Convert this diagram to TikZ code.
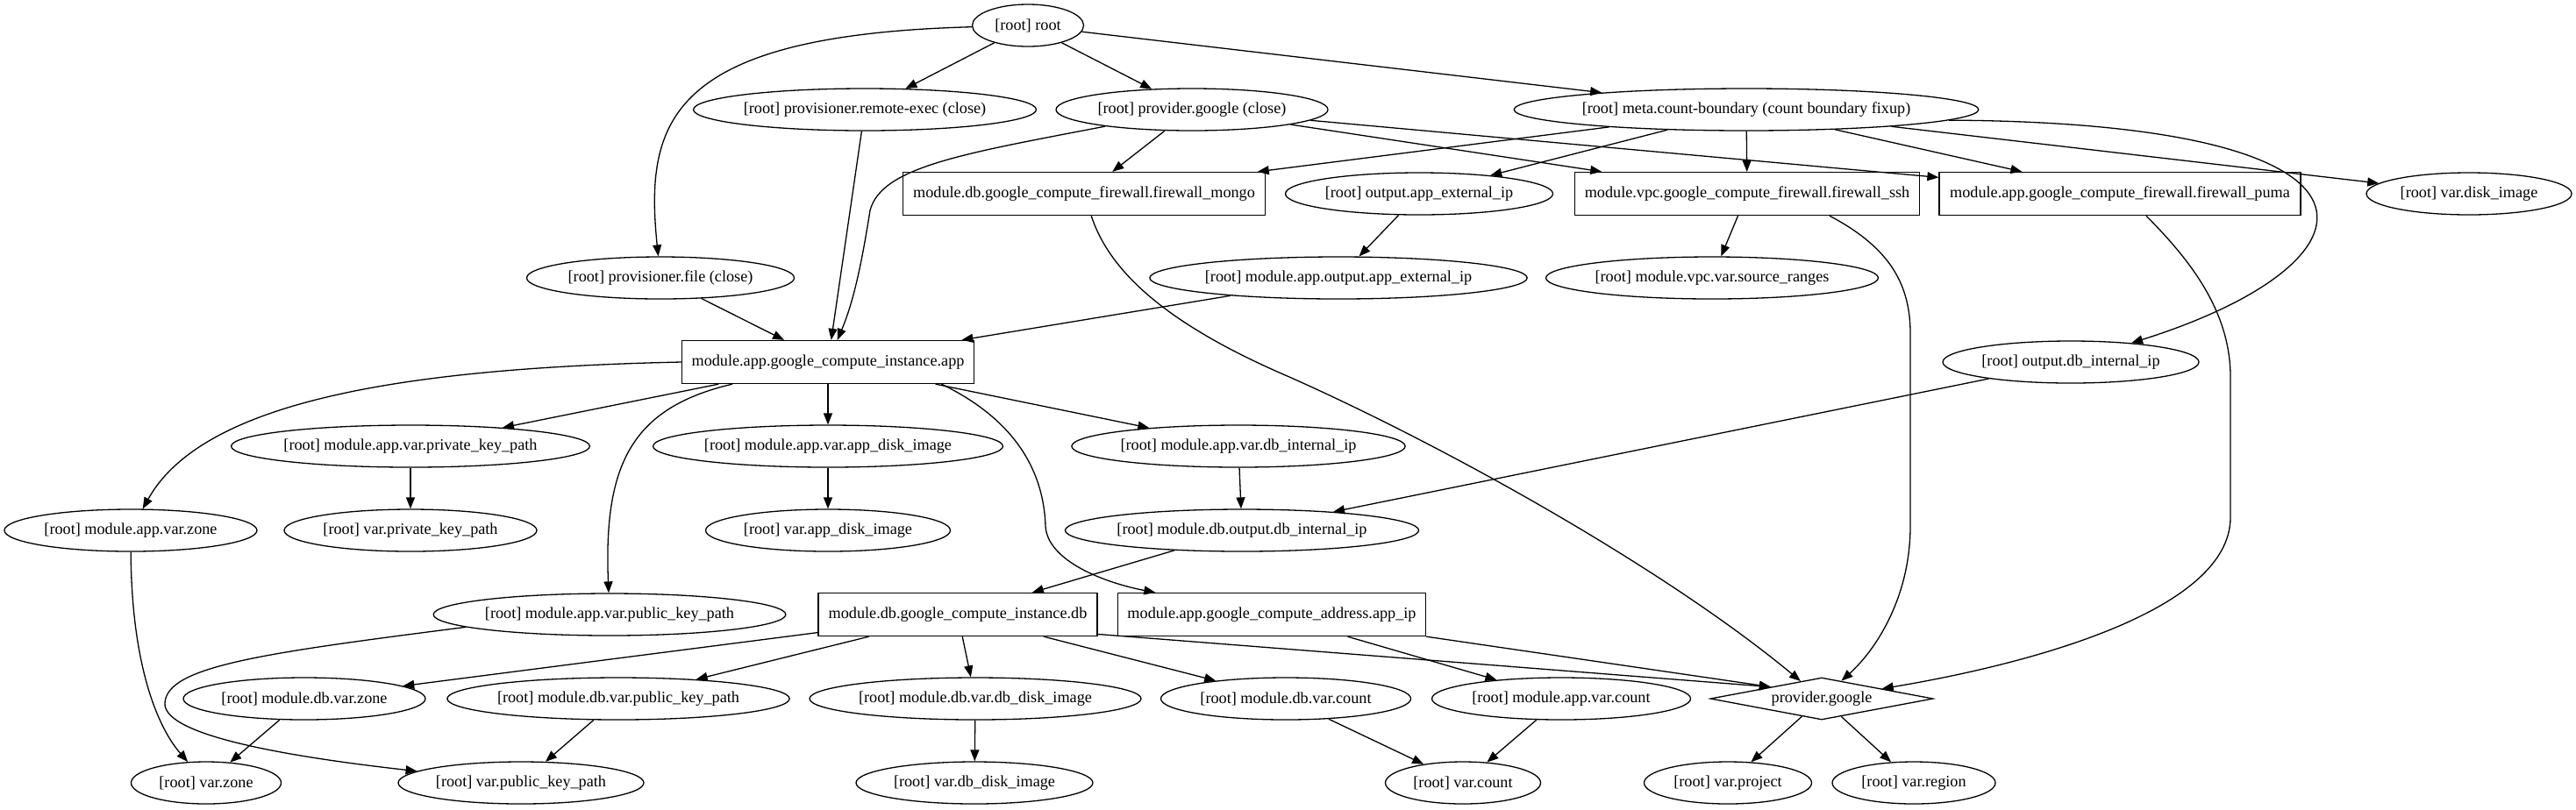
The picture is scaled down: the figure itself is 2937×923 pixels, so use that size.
\documentclass[tikz,border=0pt]{standalone}
\usepackage{fontspec}
\setmainfont{Liberation Serif}
\usetikzlibrary{shapes.geometric,arrows.meta}
\begin{document}
\begin{tikzpicture}[x=0.5pt,y=-0.5pt,
  every node/.style={font=\fontsize{9.1pt}{11pt}\selectfont, inner sep=0pt, line width=0.65pt},
  el/.style={draw, ellipse, minimum height=24pt},
  bx/.style={draw, rectangle, minimum height=24.5pt},
  dm/.style={draw, diamond, aspect=5.3, minimum width=127pt, minimum height=24pt},
  ed/.style={line width=0.65pt, -{Triangle[length=6.5pt,width=5pt]}}
]
\useasboundingbox (0,0) rectangle (2937,923);
\fill[white] (0,0) rectangle (2937,923);

% rank 1
\node[el, minimum width=63.5pt] (root) at (1172,29) {[root] root};
% rank 2
\node[el, minimum width=194pt] (rexec) at (986,125) {[root] provisioner.remote-exec (close)};
\node[el, minimum width=155pt] (pgc) at (1359,125) {[root] provider.google (close)};
\node[el, minimum width=257.5pt] (meta) at (1991,125) {[root] meta.count-boundary (count boundary fixup)};
% rank 3
\node[bx, minimum width=206.5pt] (mongo) at (1236,221) {module.db.google\_compute\_firewall.firewall\_mongo};
\node[el, minimum width=152.5pt] (oapp) at (1618,221) {[root] output.app\_external\_ip};
\node[bx, minimum width=196.5pt] (ssh) at (1992,221) {module.vpc.google\_compute\_firewall.firewall\_ssh};
\node[bx, minimum width=206pt] (puma) at (2417,221) {module.app.google\_compute\_firewall.firewall\_puma};
\node[el, minimum width=117pt] (disk) at (2815,221) {[root] var.disk\_image};
% rank 4
\node[el, minimum width=152.5pt] (pfile) at (753,317) {[root] provisioner.file (close)};
\node[el, minimum width=212.5pt] (maoapp) at (1526,317) {[root] module.app.output.app\_external\_ip};
\node[el, minimum width=189.5pt] (vpcsr) at (1952,317) {[root] module.vpc.var.source\_ranges};
% rank 5
\node[bx, minimum width=166.5pt] (app) at (944,413) {module.app.google\_compute\_instance.app};
\node[el, minimum width=146pt] (odb) at (2361,413) {[root] output.db\_internal\_ip};
% rank 6
\node[el, minimum width=202.5pt] (mpriv) at (468,509) {[root] module.app.var.private\_key\_path};
\node[el, minimum width=199.5pt] (mdisk) at (944,509) {[root] module.app.var.app\_disk\_image};
\node[el, minimum width=189pt] (mdbip) at (1412,509) {[root] module.app.var.db\_internal\_ip};
% rank 7
\node[el, minimum width=144pt] (mzone) at (149,605) {[root] module.app.var.zone};
\node[el, minimum width=144pt] (vpriv) at (468,605) {[root] var.private\_key\_path};
\node[el, minimum width=139.5pt] (vdisk) at (944,605) {[root] var.app\_disk\_image};
\node[el, minimum width=198.5pt] (mdbo) at (1416,605) {[root] module.db.output.db\_internal\_ip};
% rank 8
\node[el, minimum width=199pt] (mpub) at (695,701) {[root] module.app.var.public\_key\_path};
\node[bx, minimum width=159pt] (dbinst) at (1092,701) {module.db.google\_compute\_instance.db};
\node[bx, minimum width=175.5pt] (appip) at (1450,701) {module.app.google\_compute\_address.app\_ip};
% rank 9
\node[el, minimum width=138pt] (dbzone) at (347,797) {[root] module.db.var.zone};
\node[el, minimum width=194.5pt] (dbpub) at (705,797) {[root] module.db.var.public\_key\_path};
\node[el, minimum width=189pt] (dbdisk) at (1112,797) {[root] module.db.var.db\_disk\_image};
\node[el, minimum width=142.5pt] (dbcount) at (1466,797) {[root] module.db.var.count};
\node[el, minimum width=147.5pt] (macount) at (1780,797) {[root] module.app.var.count};
\node[dm] (pg) at (2077,797) {provider.google};
% rank 10
\node[el, minimum width=85.5pt] (vzone) at (235,893) {[root] var.zone};
\node[el, minimum width=140pt] (vpub) at (594,893) {[root] var.public\_key\_path};
\node[el, minimum width=135pt] (vdbdisk) at (1111,893) {[root] var.db\_disk\_image};
\node[el, minimum width=88.5pt] (vcount) at (1668,893) {[root] var.count};
\node[el, minimum width=95.5pt] (vproject) at (1970,893) {[root] var.project};
\node[el, minimum width=93pt] (vregion) at (2182,893) {[root] var.region};

% edges from root
\draw[ed] (root) .. controls (760,40) and (735,140) .. (pfile);
\draw[ed] (root) -- (rexec);
\draw[ed] (root) -- (pgc);
\draw[ed] (root) -- (meta);
% rank 2 edges
\draw[ed] (rexec) -- (app);
\draw[ed] (pgc) -- (mongo);
\draw[ed] (pgc) .. controls (1100,175) and (1005,190) .. (992,240) .. controls (984,290) and (975,340) .. (app);
\draw[ed] (pgc) -- (ssh);
\draw[ed] (pgc) -- (puma);
\draw[ed] (meta) -- (mongo);
\draw[ed] (meta) -- (oapp);
\draw[ed] (meta) -- (ssh);
\draw[ed] (meta) -- (puma);
\draw[ed] (meta) -- (disk);
\draw[ed] (meta.-3) .. controls (2760,140) and (2720,300) .. (odb);
% rank 3 edges
\draw[ed] (mongo) .. controls (1265,310) and (1330,370) .. (1470,430) .. controls (1650,510) and (1900,650) .. (pg);
\draw[ed] (oapp) -- (maoapp);
\draw[ed] (ssh) -- (vpcsr);
\draw[ed] (ssh.-15) .. controls (2150,280) and (2178,320) .. (2178,380) -- (2178,600) .. controls (2178,680) and (2140,740) .. (pg);
\draw[ed] (puma.-40) .. controls (2490,290) and (2543,350) .. (2543,430) -- (2543,590) .. controls (2543,700) and (2300,760) .. (pg);
% rank 4 edges
\draw[ed] (maoapp) -- (app);
\draw[ed] (pfile) -- (app);
% rank 5 edges
\draw[ed] (app.west) .. controls (450,420) and (230,460) .. (mzone);
\draw[ed] (app) -- (mpriv);
\draw[ed] (app.-167) .. controls (720,465) and (688,530) .. (mpub);
\draw[ed] (app) -- (mdisk);
\draw[ed] (app) -- (mdbip);
\draw[ed] (app.-11) .. controls (1160,480) and (1190,540) .. (1192,600) .. controls (1194,640) and (1260,665) .. (appip);
\draw[ed] (odb) -- (mdbo);
% rank 6 edges
\draw[ed] (mpriv) -- (vpriv);
\draw[ed] (mdisk) -- (vdisk);
\draw[ed] (mdbip) -- (mdbo);
% rank 7 edges
\draw[ed] (mdbo) -- (dbinst);
\draw[ed] (mzone) .. controls (150,760) and (180,830) .. (vzone);
% rank 8 edges
\draw[ed] (mpub.185) .. controls (300,745) and (190,760) .. (188,802) .. controls (186,835) and (300,860) .. (vpub);
\draw[ed] (dbinst) -- (dbzone);
\draw[ed] (dbinst) -- (dbpub);
\draw[ed] (dbinst) -- (dbdisk);
\draw[ed] (dbinst) -- (dbcount);
\draw[ed] (dbinst.-8) -- (pg.167);
\draw[ed] (appip) -- (macount);
\draw[ed] (appip.south east) -- (pg.167);
% rank 9 edges
\draw[ed] (dbzone) -- (vzone);
\draw[ed] (dbpub) -- (vpub);
\draw[ed] (dbdisk) -- (vdbdisk);
\draw[ed] (dbcount) -- (vcount);
\draw[ed] (macount) -- (vcount);
\draw[ed] (pg) -- (vproject);
\draw[ed] (pg) -- (vregion);
\end{tikzpicture}
\end{document}
